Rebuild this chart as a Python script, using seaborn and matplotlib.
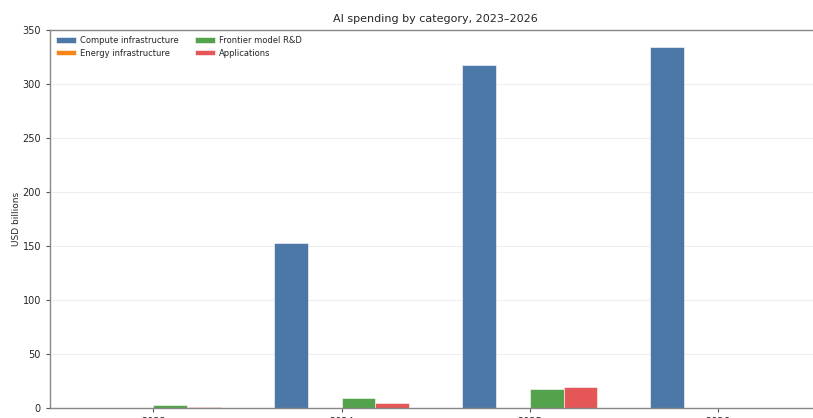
import matplotlib
matplotlib.use("Agg")
import matplotlib.pyplot as plt
import seaborn as sns
import pandas as pd

years = ["2023", "2024", "2025", "2026"]
categories = ["Compute infrastructure", "Energy infrastructure", "Frontier model R&D", "Applications"]
compute = [0, 153, 318, 334]
energy = [0, 0, 0, 0]
frontier = [2.5, 9.3, 17.6, 0]
applications = [1.2, 4.6, 19.2, 0]
colors = ["#4c78a8", "#f58518", "#54a24b", "#e45756"]

rows = []
for cat, vals in zip(categories, [compute, energy, frontier, applications]):
    for y, v in zip(years, vals):
        rows.append({"Year": y, "Category": cat, "Value": v})
df = pd.DataFrame(rows)

sns.set_style("white")
plt.rcParams["font.family"] = ["DejaVu Sans"]

fig = plt.figure(figsize=(8.13, 4.18), dpi=100)
ax = fig.add_axes([50 / 813, 10 / 418, 790 / 813, 378 / 418])

sns.barplot(data=df, x="Year", y="Value", hue="Category", hue_order=categories,
            palette=colors, width=0.72, gap=0, ax=ax, edgecolor="white", linewidth=0.4,
            saturation=1)

ax.set_xlim(-0.55, 3.65)
ax.set_ylim(0, 350)
ax.set_yticks(range(0, 351, 50))
ax.yaxis.grid(True, color="#eeeeee", linewidth=0.8)
ax.set_axisbelow(True)
ax.set_xlabel("")
ax.set_ylabel("USD billions", fontsize=6.5, labelpad=1)
ax.set_title("AI spending by category, 2023\u20132026", fontsize=8, pad=6, x=(435 - 50) / 790)
ax.tick_params(axis="both", labelsize=7, length=3, color="#555555", left=True, bottom=True)
for s in ax.spines.values():
    s.set_color("#888888")
    s.set_linewidth(1)

ax.legend(loc="upper left", ncol=2, frameon=False, fontsize=6,
          handlelength=2.4, handletextpad=0.5, columnspacing=1.9, handleheight=0.6,
          borderaxespad=0.3, labelspacing=0.45)

fig.savefig("out.png", dpi=100)
